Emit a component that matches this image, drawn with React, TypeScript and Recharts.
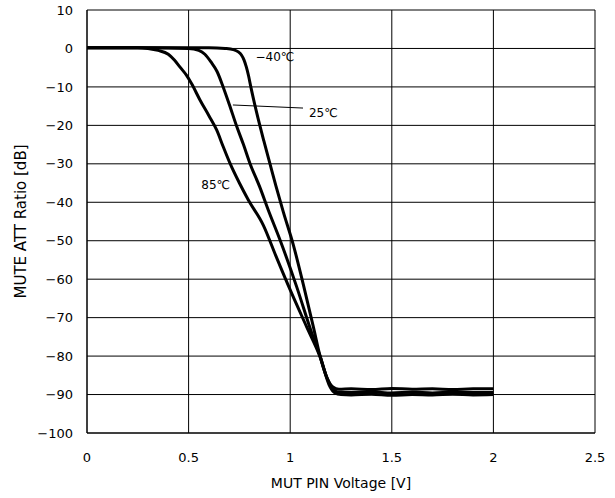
import { CartesianGrid, Line, LineChart, ReferenceDot, ReferenceLine, XAxis, YAxis } from "recharts";

// MUTE ATT ratio vs. MUT pin voltage, three temperatures
const voltM40 = [0, 0.3, 0.6, 0.68, 0.72, 0.745, 0.76, 0.772, 0.784, 0.795, 0.807, 0.835, 0.87, 0.9, 0.93, 0.966, 1.015, 1.065, 1.114, 1.147, 1.18, 1.21, 1.24, 1.3, 1.4, 1.5, 1.6, 1.7, 1.8, 1.9, 2.0];
const attM40 = [0.2, 0.2, 0.2, 0, -0.3, -0.9, -1.7, -2.9, -4.8, -7.1, -10.2, -16.7, -24, -29.9, -35.8, -42.5, -51, -61.5, -72.4, -80, -85.5, -88, -88.6, -88.5, -88.7, -88.4, -88.6, -88.5, -88.7, -88.5, -88.5];

const volt25 = [0, 0.3, 0.5, 0.55, 0.58, 0.61, 0.64, 0.67, 0.7, 0.737, 0.77, 0.802, 0.85, 0.892, 0.95, 1.032, 1.106, 1.147, 1.18, 1.21, 1.24, 1.3, 1.4, 1.5, 1.6, 1.7, 1.8, 1.9, 2.0];
const att25 = [0.2, 0.2, 0, -0.5, -1.5, -3.5, -6, -10, -14.5, -20.3, -25, -29.9, -36, -42, -49.8, -62, -74, -80, -85.5, -88.6, -89.4, -89.5, -89.3, -89.6, -89.4, -89.6, -89.4, -89.5, -89.5];

const volt85 = [0, 0.25, 0.3, 0.35, 0.4, 0.43, 0.46, 0.49, 0.515, 0.556, 0.6, 0.638, 0.67, 0.704, 0.75, 0.794, 0.868, 0.93, 1.0, 1.081, 1.147, 1.196, 1.22, 1.25, 1.3, 1.4, 1.5, 1.6, 1.7, 1.8, 1.9, 2.0];
const att85 = [0.2, 0.2, 0, -0.5, -1.5, -3, -5, -7, -9.2, -13.4, -17.5, -21.2, -25.5, -29.9, -35, -39.4, -46, -54, -62.8, -72.4, -80.2, -88, -89.6, -90, -90.1, -89.9, -90.2, -90, -90.1, -89.9, -90.1, -90];

const xTicks = [0, 0.5, 1, 1.5, 2, 2.5];
const yTicks = [-100, -90, -80, -70, -60, -50, -40, -30, -20, -10, 0, 10];

const toPoints = (xs: number[], ys: number[]) => xs.map((v, i) => ({ v, att: ys[i] }));

const font = "'DejaVu Sans', sans-serif";
const fmt = (n: number) => String(n).replace("-", "\u2212");

const tempLabel = (value: string) => ({ value, position: "center" as const, fill: "#000", fontSize: 12, fontFamily: font });

export default function App() {
  return (
    <div style={{ position: "absolute", left: 0, top: 0, background: "#fff" }}>
      <LineChart width={615} height={498} margin={{ top: 10, right: 20, bottom: 0, left: 0 }}>
        <CartesianGrid stroke="#000" strokeWidth={1} />
        <XAxis
          type="number"
          dataKey="v"
          domain={[0, 2.5]}
          ticks={xTicks}
          tickFormatter={fmt}
          height={65}
          stroke="#000"
          tickLine={false}
          tickSize={6}
          tickMargin={14}
          tick={{ fill: "#000", fontSize: 13, fontFamily: font }}
          label={{ value: "MUT PIN Voltage [V]", position: "insideBottom", offset: 10, fill: "#000", fontSize: 14, fontFamily: font }}
        />
        <YAxis
          type="number"
          domain={[-100, 10]}
          ticks={yTicks}
          tickFormatter={fmt}
          width={87}
          stroke="#000"
          tickLine={false}
          tickSize={6}
          tickMargin={8}
          tick={{ fill: "#000", fontSize: 13, fontFamily: font }}
          label={{ value: "MUTE ATT Ratio [dB]", angle: -90, position: "insideLeft", offset: 21, style: { textAnchor: "middle" }, fill: "#000", fontSize: 15, fontFamily: font }}
        />
        <Line data={toPoints(volt85, att85)} dataKey="att" type="monotone" stroke="#000" strokeWidth={3} dot={false} isAnimationActive={false} />
        <Line data={toPoints(volt25, att25)} dataKey="att" type="monotone" stroke="#000" strokeWidth={3} dot={false} isAnimationActive={false} />
        <Line data={toPoints(voltM40, attM40)} dataKey="att" type="monotone" stroke="#000" strokeWidth={3} dot={false} isAnimationActive={false} />
        <ReferenceLine segment={[{ x: 0.718, y: -14.7 }, { x: 1.063, y: -15.5 }]} stroke="#000" strokeWidth={1} />
        <ReferenceDot x={0.925} y={-2.1} r={0} fill="none" stroke="none" label={tempLabel("\u221240\u2103")} />
        <ReferenceDot x={1.163} y={-16.7} r={0} fill="none" stroke="none" label={tempLabel("25\u2103")} />
        <ReferenceDot x={0.633} y={-35.5} r={0} fill="none" stroke="none" label={tempLabel("85\u2103")} />
      </LineChart>
    </div>
  );
}
